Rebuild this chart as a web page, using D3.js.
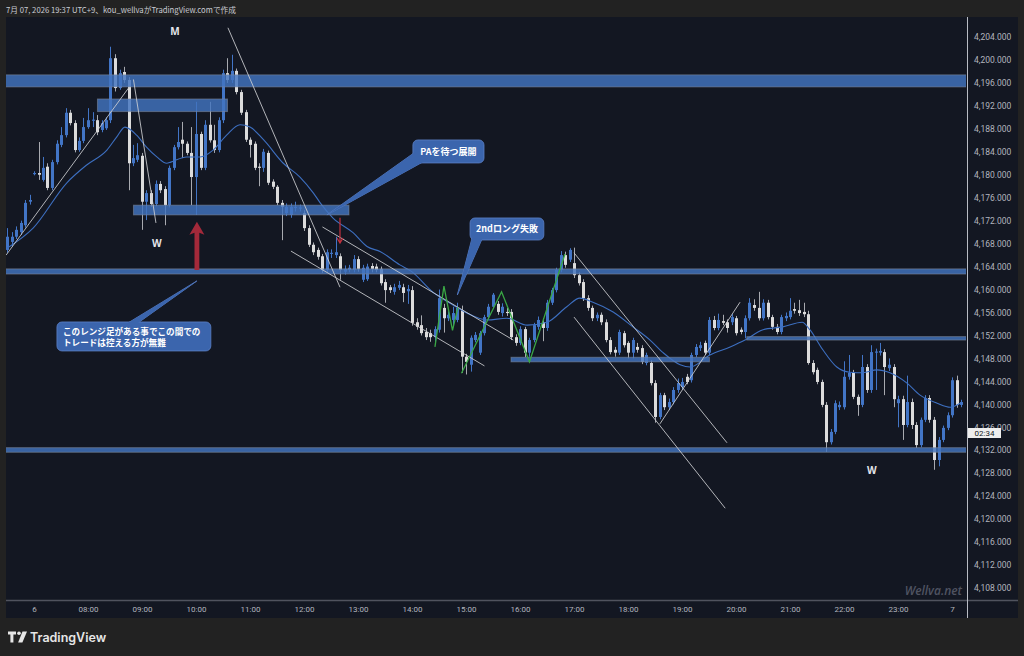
<!DOCTYPE html>
<html>
<head>
<meta charset="utf-8">
<script src="https://cdn.jsdelivr.net/npm/d3@7"></script>
<style>
body{margin:0;background:#222222;}
svg{display:block;}
</style>
</head>
<body>
<script>
// 5 minute candles from 06:30, [open, high, low, close]
var candles = [
[4166.9,4170.7,4166.4,4169.2],[4168.3,4170.0,4167.5,4169.2],[4169.2,4171.0,4168.8,4170.4],[4170.0,4172.0,4169.5,4171.6],
[4171.2,4175.6,4170.8,4175.1],[4175.3,4176.5,4174.8,4175.6],[4180.1,4180.6,4179.9,4180.3],[4180.3,4185.7,4179.1,4180.0],
[4179.1,4183.1,4178.8,4181.2],[4181.4,4182.0,4177.3,4177.7],[4177.7,4182.6,4177.3,4182.2],[4182.2,4186.0,4181.8,4185.4],
[4185.2,4188.3,4184.8,4186.9],[4186.9,4191.6,4186.5,4190.8],[4190.8,4191.3,4188.6,4189.0],[4189.0,4189.5,4183.9,4184.3],
[4184.3,4186.5,4184.0,4185.9],[4185.9,4189.9,4185.5,4188.3],[4188.3,4191.6,4188.0,4189.5],[4189.4,4190.9,4188.3,4189.6],
[4189.5,4190.4,4186.9,4187.4],[4187.8,4189.5,4187.4,4189.0],[4188.1,4190.0,4187.8,4189.5],[4189.5,4202.3,4189.0,4200.3],
[4200.3,4201.0,4194.5,4195.1],[4195.1,4198.3,4194.8,4197.7],[4197.9,4198.8,4196.0,4196.5],[4196.5,4197.0,4177.3,4182.0],
[4182.0,4185.2,4181.5,4182.9],[4182.6,4185.5,4182.2,4183.4],[4183.3,4183.8,4170.4,4175.3],[4175.3,4177.3,4172.1,4176.8],
[4176.8,4177.3,4174.4,4174.9],[4174.9,4179.0,4174.5,4178.4],[4178.4,4178.9,4176.8,4177.3],[4177.5,4178.0,4171.2,4174.7],
[4174.7,4181.6,4174.3,4181.2],[4181.2,4185.2,4180.8,4184.8],[4184.8,4188.3,4184.4,4185.7],[4186.1,4189.2,4182.9,4185.4],
[4185.4,4185.8,4183.4,4183.8],[4183.8,4188.3,4174.7,4179.6],[4179.6,4192.7,4173.0,4187.1],[4187.1,4187.5,4180.8,4181.2],
[4181.2,4189.5,4180.8,4188.7],[4188.7,4192.7,4185.6,4186.0],[4186.0,4188.7,4183.8,4184.3],[4184.3,4190.0,4183.9,4189.5],
[4189.5,4198.3,4189.0,4197.7],[4197.7,4200.3,4196.0,4196.5],[4196.5,4200.9,4196.0,4198.1],[4198.1,4198.5,4194.0,4194.4],
[4194.4,4194.8,4190.4,4190.8],[4190.9,4191.3,4185.7,4186.1],[4186.1,4186.5,4183.0,4185.2],[4185.4,4185.8,4180.8,4181.2],
[4181.4,4182.0,4178.0,4181.2],[4181.2,4184.5,4180.5,4184.0],[4183.8,4184.2,4178.2,4178.6],[4178.8,4179.2,4177.5,4177.9],
[4177.9,4178.2,4174.7,4175.1],[4175.1,4175.6,4168.6,4174.4],[4173.3,4175.0,4172.8,4174.4],[4173.0,4175.0,4172.5,4174.4],
[4174.2,4175.3,4173.6,4174.4],[4174.1,4174.8,4173.6,4174.3],[4173.3,4173.8,4170.2,4170.7],[4170.7,4171.2,4167.4,4167.8],
[4167.8,4168.2,4166.0,4166.5],[4166.9,4167.3,4165.2,4165.7],[4165.8,4166.2,4162.9,4163.4],[4163.4,4167.0,4163.0,4166.5],
[4166.2,4167.0,4165.5,4166.4],[4166.0,4169.2,4165.5,4166.5],[4165.8,4166.3,4161.7,4163.4],[4163.1,4164.2,4162.6,4163.6],
[4163.4,4164.3,4163.0,4163.8],[4163.4,4166.0,4163.0,4165.3],[4165.3,4165.8,4163.1,4163.6],[4161.7,4164.3,4161.3,4163.8],
[4161.8,4164.5,4161.5,4164.0],[4164.1,4164.6,4163.0,4163.6],[4164.0,4164.5,4163.0,4163.4],[4163.6,4164.0,4160.7,4161.1],
[4161.3,4161.8,4157.7,4159.9],[4160.4,4160.8,4159.4,4159.9],[4159.6,4161.0,4159.1,4160.4],[4160.3,4161.5,4159.9,4160.8],
[4160.4,4161.0,4157.8,4159.4],[4159.7,4160.8,4157.5,4160.1],[4159.9,4160.6,4153.7,4154.2],[4154.3,4155.0,4153.0,4153.5],
[4153.8,4155.5,4152.0,4152.4],[4152.6,4153.3,4151.2,4151.7],[4152.4,4153.0,4150.9,4151.7],[4151.7,4153.6,4150.5,4153.1],
[4153.0,4160.0,4152.5,4158.5],[4156.8,4157.5,4152.5,4155.0],[4155.0,4156.2,4154.5,4155.6],[4154.7,4157.0,4153.5,4155.9],
[4154.7,4157.7,4154.3,4156.8],[4156.4,4157.2,4145.5,4148.3],[4148.3,4148.8,4145.2,4147.4],[4146.9,4152.0,4145.7,4151.6],
[4151.2,4152.6,4150.8,4152.1],[4149.0,4152.8,4148.6,4152.4],[4152.4,4155.6,4152.0,4155.2],[4155.2,4157.5,4154.8,4157.0],
[4157.0,4159.4,4156.6,4159.1],[4157.5,4158.0,4155.6,4156.1],[4155.9,4157.6,4155.3,4157.0],[4156.1,4156.8,4155.4,4155.9],
[4156.1,4156.6,4151.2,4151.7],[4151.7,4152.2,4150.2,4150.7],[4150.7,4153.6,4150.3,4153.1],[4153.1,4153.5,4148.2,4149.0],
[4149.0,4151.6,4148.3,4151.2],[4151.2,4154.2,4150.8,4153.8],[4153.5,4155.3,4153.0,4154.7],[4154.3,4155.0,4151.0,4153.3],
[4153.3,4158.2,4152.8,4157.7],[4157.7,4160.3,4157.3,4159.9],[4159.9,4163.8,4159.5,4163.4],[4163.4,4166.7,4163.0,4166.0],
[4166.0,4166.6,4163.8,4164.3],[4165.2,4167.2,4164.8,4166.9],[4164.6,4167.3,4162.0,4162.5],[4162.5,4163.0,4160.7,4161.1],
[4161.3,4161.8,4158.0,4158.5],[4158.5,4159.0,4156.3,4156.8],[4156.8,4157.2,4154.5,4155.0],[4155.0,4156.0,4154.5,4155.6],
[4155.6,4156.0,4153.8,4154.3],[4154.3,4154.8,4150.8,4151.2],[4151.2,4151.7,4148.7,4149.1],[4149.5,4150.0,4148.3,4149.0],
[4149.0,4153.0,4148.6,4152.6],[4152.4,4152.8,4149.9,4150.3],[4150.7,4151.0,4148.0,4149.0],[4149.0,4151.6,4148.0,4151.2],
[4150.0,4150.7,4149.0,4149.5],[4149.8,4150.3,4147.0,4147.4],[4147.2,4149.0,4146.8,4148.6],[4147.2,4147.7,4143.3,4143.7],
[4143.7,4144.2,4136.8,4137.8],[4137.8,4142.0,4137.4,4141.6],[4141.6,4142.0,4139.0,4139.5],[4139.5,4141.0,4139.0,4140.4],
[4140.4,4143.0,4140.0,4142.5],[4142.5,4144.5,4142.0,4143.7],[4143.0,4144.6,4142.6,4143.9],[4144.8,4145.3,4143.5,4143.9],
[4144.2,4149.0,4143.8,4148.6],[4148.6,4150.5,4148.2,4150.0],[4149.8,4150.9,4149.3,4150.3],[4150.7,4151.1,4148.6,4149.0],
[4149.0,4155.2,4148.6,4154.7],[4154.7,4155.4,4152.9,4153.3],[4153.3,4155.8,4152.9,4154.7],[4154.5,4155.6,4153.8,4154.2],
[4154.3,4154.8,4152.5,4153.3],[4154.3,4155.7,4153.8,4155.2],[4155.0,4155.4,4152.0,4152.4],[4153.0,4153.4,4152.2,4152.6],
[4152.6,4155.5,4151.5,4155.0],[4155.0,4158.5,4154.6,4157.7],[4157.3,4158.3,4156.3,4156.8],[4156.8,4159.6,4154.6,4155.0],
[4155.0,4158.3,4154.6,4157.7],[4157.7,4158.2,4154.8,4155.2],[4155.2,4155.6,4153.0,4153.5],[4153.5,4154.0,4152.2,4152.6],
[4152.6,4155.6,4152.2,4155.2],[4155.0,4156.0,4154.5,4155.4],[4155.2,4158.5,4154.8,4156.3],[4156.6,4157.7,4155.8,4156.3],
[4156.4,4158.2,4155.4,4155.9],[4156.1,4157.7,4155.2,4155.7],[4155.7,4156.3,4146.9,4147.2],[4147.2,4147.7,4145.2,4145.6],
[4146.0,4146.4,4143.5,4143.9],[4143.9,4144.3,4139.5,4139.9],[4139.9,4140.4,4131.7,4133.4],[4133.4,4135.7,4133.0,4135.2],
[4135.2,4140.7,4134.8,4140.2],[4139.5,4140.5,4139.0,4139.9],[4139.5,4147.5,4139.1,4144.8],[4144.8,4148.6,4144.3,4145.5],
[4145.5,4146.0,4140.9,4141.3],[4141.3,4141.7,4138.0,4139.9],[4139.9,4148.6,4139.5,4146.5],[4146.5,4147.0,4142.0,4142.5],
[4142.5,4150.3,4142.0,4149.1],[4149.0,4149.7,4142.5,4149.2],[4149.0,4150.7,4148.5,4149.3],[4149.1,4149.6,4141.6,4146.5],
[4146.3,4148.0,4145.8,4146.9],[4146.5,4147.0,4139.5,4140.9],[4140.2,4141.5,4136.0,4140.9],[4140.9,4141.5,4133.8,4136.4],
[4136.4,4145.0,4136.0,4140.4],[4140.4,4141.0,4135.7,4136.4],[4136.4,4136.9,4132.4,4132.9],[4132.9,4137.7,4132.5,4137.3],
[4137.3,4141.6,4136.9,4141.1],[4141.1,4141.6,4136.8,4137.3],[4137.3,4137.8,4128.6,4130.3],[4130.3,4134.3,4129.2,4133.8],
[4133.8,4136.3,4133.4,4135.9],[4135.9,4138.6,4135.5,4138.1],[4138.1,4144.7,4137.7,4144.2],[4144.2,4145.0,4139.4,4139.9],
[4139.9,4140.8,4139.5,4140.4]
];

// moving average: [candle index, price]
var maPoints = [
[0,4167.2],[5.8,4170.7],[13.3,4178.6],[17.7,4181.7],[22.2,4184.3],[24.4,4186.6],[26.2,4188.3],[28.8,4186.9],
[31,4184.8],[33.3,4183.1],[35.5,4182.0],[36.4,4182.2],[39.9,4183.1],[42.9,4183.1],[45.8,4184.3],[48.8,4186.9],
[51.8,4188.7],[54,4188.3],[57,4186.1],[61.4,4182.0],[65.1,4179.6],[68.1,4176.8],[69.6,4175.1],[72.4,4172.5],
[76.9,4169.9],[80,4167.5],[83,4166.6],[87.3,4164.3],[89.8,4163.2],[94.7,4159.5],[99.1,4157.3],[102.2,4155.9],
[106.7,4154.7],[111.1,4155.0],[115.6,4153.8],[120,4154.3],[124.4,4157.0],[127.3,4158.5],[130.2,4157.8],
[134.7,4156.1],[139.1,4153.5],[142.9,4151.2],[145.8,4149.0],[149.6,4146.9],[151.8,4146.5],[156.2,4148.6],
[160.7,4150.0],[164,4151.2],[168,4153.0],[172.4,4153.5],[176.7,4154.3],[178.4,4153.0],[181.3,4149.5],
[184.4,4146.5],[187.3,4145.6],[190.2,4145.5],[193.3,4146.0],[196.2,4145.5],[200,4143.7],[202.9,4141.6],
[206.7,4140.2],[209.6,4139.5],[211.8,4140.2]
];

var priceTicks = [4204,4200,4196,4192,4188,4184,4180,4176,4172,4168,4164,4160,4156,4152,4148,4144,4140,4136,4132,4128,4124,4120,4116,4112,4108];
var timeTickIdx = [6,18,30,42,54,66,78,90,102,114,126,138,150,162,174,186,198,210];
var timeTickLabels = ["6","08:00","09:00","10:00","11:00","12:00","13:00","14:00","15:00","16:00","17:00","18:00","19:00","20:00","21:00","22:00","23:00","7"];

// drawings, in candle index / price
var zones = [
[-2,216,4197.4,4195.3],[20.1,49.0,4193.2,4191.0],[28.1,76.0,4174.7,4173.0],[-2,216,4163.6,4162.7],
[112.0,156.1,4148.2,4147.4],[164.4,216,4151.8,4151.2],[-2,216,4132.45,4131.65]
];
var trendLines = [
[-0.2,4166.0,27.0,4195.1],[28.1,4196.6,33.1,4171.6],[49.1,4205.6,74.0,4160.4],[70.1,4170.9,112.5,4151.2],
[63.1,4166.7,106.1,4146.7],[126.0,4166.4,160.0,4133.3],[126.0,4155.2,159.6,4121.9],[145.1,4136.6,162.9,4157.8]
];
var greenLines = [
[[95.1,4150.0],[97.1,4160.6],[99.0,4152.9],[100.2,4156.9]],
[[101.0,4145.4],[109.9,4159.6],[116.1,4147.4],[124.0,4166.2]]
];
var bigArrow = {i: 42.2, tip: 4171.8, base: 4163.4};
var smallArrow = {i: 74.0, from: 4172.5, tip: 4168.1};
var marks = [{i: 37.3, p: 4204.9, t: "M"}, {i: 33.3, p: 4168.1, t: "W"}, {i: 192.2, p: 4128.4, t: "W"}];
var callouts = [
{box: [90.2,106.0,4186.06,4182.05], tip: [71.1,4173.0], lines: ["PAを待つ展開"]},
{box: [102.9,119.3,4172.47,4168.63], tip: [100.07,4159.05], lines: ["2ndロング失敗"]},
{box: [11.1,45.3,4154.35,4149.3], tip: [42.2,4161.5], lines: ["このレンジ足がある事でこの間での","トレードは控える方が無難"]}
];

var W = 1024, H = 656;
var plot = {left: 6, right: 966, top: 17, bottom: 598};
var upColor = "#4275c6", downColor = "#dcdcdc";
var svg, x, y, layer;

var drawSVG = function(){
  svg = d3.select("body").append("svg").attr("width", W).attr("height", H);
  svg.append("rect").attr("width", W).attr("height", H).attr("fill", "#222222");
  svg.append("rect").attr("x", 6).attr("y", 17).attr("width", 1012).attr("height", 601).attr("fill", "#131722");
  svg.append("defs").append("clipPath").attr("id", "clip")
    .append("rect").attr("x", plot.left).attr("y", plot.top)
    .attr("width", plot.right - plot.left).attr("height", plot.bottom - plot.top);

  x = d3.scaleLinear().domain([-1/4.5, 959/4.5]).range([plot.left, plot.right]);
  y = d3.scaleLinear().domain([4106.26, 4207.48]).range([plot.bottom, plot.top]);
  layer = svg.append("g").attr("clip-path", "url(#clip)");

  svg.append("text").attr("x", 6).attr("y", 13)
    .attr("font-family", "'Noto Sans CJK JP', sans-serif").attr("font-size", 8)
    .attr("fill", "#c9ccd3").attr("textLength", 230).attr("lengthAdjust", "spacingAndGlyphs")
    .text("7月 07, 2026 19:37 UTC+9、kou_wellvaがTradingView.comで作成");
}

var drawCandles = function(){
  var c = layer.selectAll(".candle").data(candles).enter().append("g").attr("class", "candle");
  c.append("line")
    .attr("x1", function(d, i){ return Math.round(x(i)) + 0.5; })
    .attr("x2", function(d, i){ return Math.round(x(i)) + 0.5; })
    .attr("y1", function(d){ return y(d[1]); })
    .attr("y2", function(d){ return y(d[2]); })
    .attr("stroke", function(d){ return d[3] >= d[0] ? upColor : "#a8aab0"; })
    .attr("stroke-width", 1);
  c.append("rect")
    .attr("x", function(d, i){ return Math.round(x(i)) - 1; })
    .attr("width", 3)
    .attr("y", function(d){ return y(Math.max(d[0], d[3])); })
    .attr("height", function(d){ return Math.max(1, Math.abs(y(d[0]) - y(d[3]))); })
    .attr("fill", function(d){ return d[3] >= d[0] ? upColor : downColor; });

  var line = d3.line()
    .x(function(d){ return x(d[0]); })
    .y(function(d){ return y(d[1]); })
    .curve(d3.curveMonotoneX);
  layer.append("path").datum(maPoints).attr("d", line)
    .attr("fill", "none").attr("stroke", "#3d6fc0").attr("stroke-width", 1.1);
}

var drawDrawings = function(){
  layer.selectAll(".zone").data(zones).enter().append("rect")
    .attr("x", function(d){ return x(d[0]); })
    .attr("width", function(d){ return x(d[1]) - x(d[0]); })
    .attr("y", function(d){ return y(d[2]); })
    .attr("height", function(d){ return y(d[3]) - y(d[2]); })
    .attr("fill", "rgba(66,116,192,0.82)")
    .attr("stroke", "rgba(130,138,155,0.55)").attr("stroke-width", 1);

  layer.selectAll(".tl").data(trendLines).enter().append("line")
    .attr("x1", function(d){ return x(d[0]); }).attr("y1", function(d){ return y(d[1]); })
    .attr("x2", function(d){ return x(d[2]); }).attr("y2", function(d){ return y(d[3]); })
    .attr("stroke", "#cfd0d4").attr("stroke-opacity", 0.85).attr("stroke-width", 1);

  var gl = d3.line().x(function(d){ return x(d[0]); }).y(function(d){ return y(d[1]); });
  layer.selectAll(".gl").data(greenLines).enter().append("path")
    .attr("d", gl).attr("fill", "none").attr("stroke", "#3aa845").attr("stroke-width", 1.3);

  // red arrows
  var ax = x(bigArrow.i), at = y(bigArrow.tip), ab = y(bigArrow.base);
  layer.append("path")
    .attr("d", "M" + ax + "," + at + "L" + (ax + 7.5) + "," + (at + 13) + "L" + (ax + 2.4) + "," + (at + 11) +
      "L" + (ax + 2.4) + "," + ab + "L" + (ax - 2.4) + "," + ab + "L" + (ax - 2.4) + "," + (at + 11) +
      "L" + (ax - 7.5) + "," + (at + 13) + "Z")
    .attr("fill", "#a3293a");
  var sx = x(smallArrow.i), sf = y(smallArrow.from), st = y(smallArrow.tip);
  layer.append("path")
    .attr("d", "M" + sx + "," + sf + "L" + sx + "," + st + "M" + (sx - 3) + "," + (st - 5) + "L" + sx + "," + st + "L" + (sx + 3) + "," + (st - 5))
    .attr("fill", "none").attr("stroke", "#c4303e").attr("stroke-width", 1.2);

  layer.selectAll(".mk").data(marks).enter().append("text")
    .attr("x", function(d){ return x(d.i); }).attr("y", function(d){ return y(d.p) + 3.5; })
    .attr("text-anchor", "middle").attr("font-family", "'Noto Sans', sans-serif")
    .attr("font-weight", 700).attr("font-size", 10).attr("fill", "#e3e5ea")
    .text(function(d){ return d.t; });
}

var drawCallouts = function(){
  var fill = "#3b65ad";
  callouts.forEach(function(co, k){
    var x0 = x(co.box[0]), x1 = x(co.box[1]), y0 = y(co.box[2]), y1 = y(co.box[3]);
    var tx = x(co.tip[0]), ty = y(co.tip[1]);
    var b;
    if (k == 0) b = [[x0 + 1, y1 - 10], [x0 + 10, y1 - 1]];
    else if (k == 1) b = [[x0 + 2, y1 - 2], [x0 + 12, y1 - 1]];
    else b = [[x0 + 71, y0 + 1], [x0 + 81, y0 + 1]];
    var tail = "M" + b[0] + "L" + tx + "," + ty + "L" + b[1] + "Z";
    layer.append("path").attr("d", tail).attr("fill", fill).attr("stroke", "#5c80c6").attr("stroke-width", 0.8);
    layer.append("rect").attr("x", x0).attr("y", y0).attr("width", x1 - x0).attr("height", y1 - y0)
      .attr("rx", 5).attr("fill", fill).attr("stroke", "#5c80c6").attr("stroke-width", 0.8);
    layer.append("path").attr("d", tail).attr("fill", fill);
    if (co.lines.length == 1) {
      layer.append("text").attr("font-family", "'Noto Sans CJK JP', sans-serif")
        .attr("font-weight", 700).attr("font-size", 9).attr("fill", "#ffffff")
        .attr("x", (x0 + x1) / 2).attr("y", (y0 + y1) / 2 + 3.3).attr("text-anchor", "middle").text(co.lines[0]);
    } else {
      co.lines.forEach(function(s, j){
        layer.append("text").attr("font-family", "'Noto Sans CJK JP', sans-serif")
          .attr("font-weight", 700).attr("font-size", 8.6).attr("fill", "#ffffff")
          .attr("x", x0 + 6).attr("y", y0 + 12.8 + j * 11).text(s);
      });
    }
  });
}

var drawAxes = function(){
  var ya = svg.append("g").attr("transform", "translate(" + 974 + ",0)")
    .call(d3.axisRight(y).tickValues(priceTicks).tickSize(0).tickPadding(0).tickFormat(d3.format(",.3f")));
  ya.select(".domain").remove();
  ya.selectAll("text").attr("font-family", "Roboto, sans-serif").attr("font-size", 8.5).attr("fill", "#b2b5be");

  var xa = svg.append("g").attr("transform", "translate(0," + 606 + ")")
    .call(d3.axisBottom(x).tickValues(timeTickIdx).tickSize(0).tickPadding(0)
      .tickFormat(function(d, i){ return timeTickLabels[i]; }));
  xa.select(".domain").remove();
  xa.selectAll("text").attr("font-family", "Roboto, sans-serif").attr("font-size", 8).attr("fill", "#b2b5be");

  svg.append("line").attr("x1", 6).attr("x2", 1018).attr("y1", 600.5).attr("y2", 600.5)
    .attr("stroke", "#50535e").attr("stroke-width", 1.6);
  svg.append("line").attr("x1", 967.5).attr("x2", 967.5).attr("y1", 17).attr("y2", 618)
    .attr("stroke", "#b9bcc4").attr("stroke-width", 1);

  // countdown label
  svg.append("rect").attr("x", 968).attr("y", 428).attr("width", 33).attr("height", 10).attr("fill", "#eeeeee");
  svg.append("text").attr("x", 984.5).attr("y", 436).attr("text-anchor", "middle")
    .attr("font-family", "Roboto, sans-serif").attr("font-size", 8).attr("fill", "#131722").text("02:34");

  svg.append("text").attr("x", 962).attr("y", 595).attr("text-anchor", "end")
    .attr("font-family", "'Open Sans', sans-serif").attr("font-style", "italic").attr("font-weight", 600)
    .attr("font-size", 12).attr("fill", "#4f5361").text("Wellva.net");
}

var drawLogo = function(){
  var g = svg.append("g").attr("fill", "#e6e6e6");
  g.append("path").attr("d", "M8,631.5h8v3h-2.6v8h-3v-8H8z");
  g.append("circle").attr("cx", 19).attr("cy", 633.2).attr("r", 1.8);
  g.append("path").attr("d", "M22.5,631.5h4.5l-4.6,11h-4.3z");
  svg.append("text").attr("x", 30).attr("y", 641.5)
    .attr("font-family", "Inter, 'Noto Sans', sans-serif").attr("font-weight", 600)
    .attr("font-size", 12.5).attr("fill", "#e6e6e6").text("TradingView");
}

drawSVG();
drawCandles();
drawDrawings();
drawCallouts();
drawAxes();
drawLogo();
</script>
</body>
</html>
